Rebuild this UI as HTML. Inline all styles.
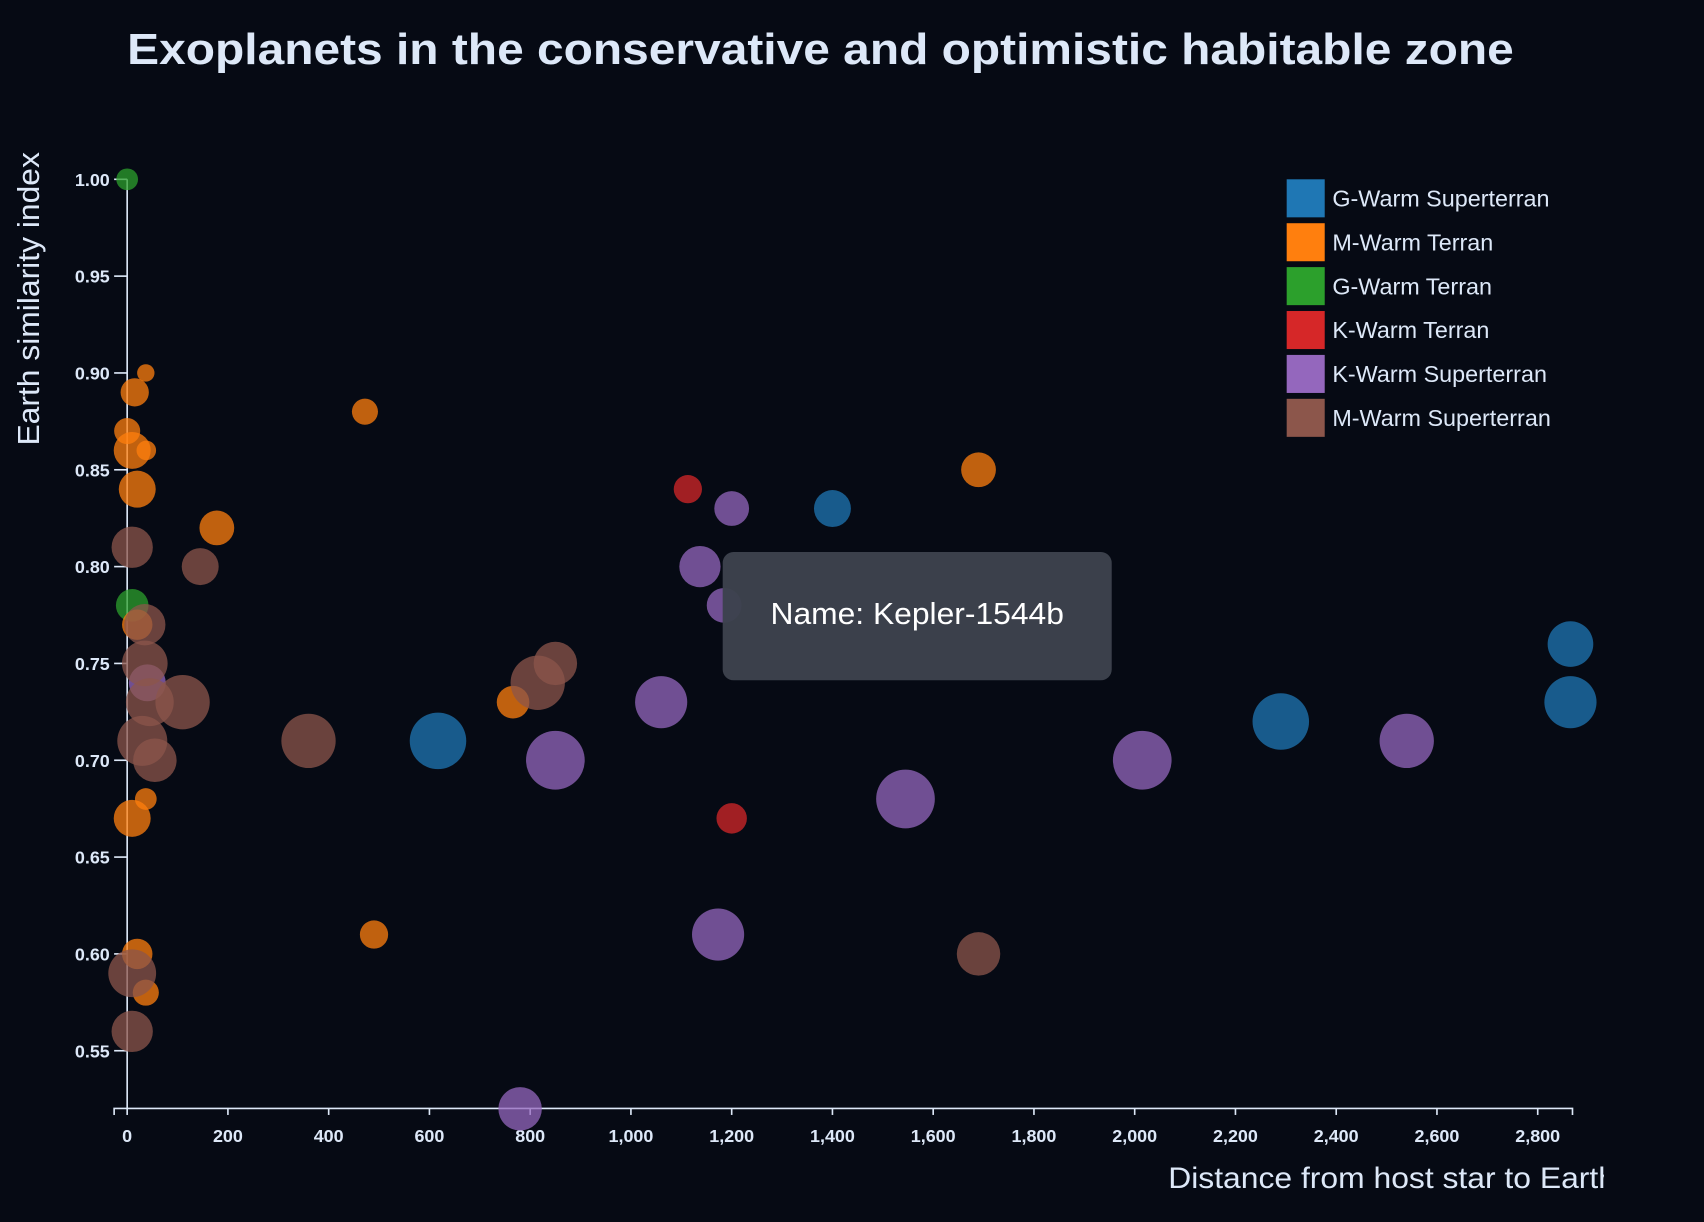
<!DOCTYPE html>
<html><head><meta charset="utf-8"><style>
html,body{margin:0;padding:0;background:#060a14;}
svg{display:block;font-family:"Liberation Sans",sans-serif;}
</style></head><body>
<svg id="chart" width="1704" height="1222" viewBox="0 0 1568 1124.5">
<rect x="0" y="0" width="1568" height="1124.5" fill="#060a14"/>
<text x="117" y="59" font-size="40" font-weight="bold" fill="#dde8f8" textLength="1276" lengthAdjust="spacingAndGlyphs">Exoplanets in the conservative and optimistic habitable zone</text>
<g id="axes"></g>
<g id="marks"></g>
<g id="legend"></g>
<defs><clipPath id="xclip"><rect x="0" y="1040" width="1476" height="80"/></clipPath></defs>
<text x="1075" y="1093" font-size="27" fill="#dde8f8" clip-path="url(#xclip)" textLength="412" lengthAdjust="spacingAndGlyphs">Distance from host star to Earth</text>
<text transform="translate(36,410) rotate(-90)" font-size="28" fill="#dde8f8" textLength="270" lengthAdjust="spacingAndGlyphs">Earth similarity index</text>
<g>
<rect x="665" y="508" width="358" height="118" rx="10" fill="#3d424d" opacity="0.97"/>
<text x="844" y="574" font-size="28" fill="#ffffff" text-anchor="middle" textLength="270" lengthAdjust="spacingAndGlyphs">Name: Kepler-1544b</text>
</g>
</svg>
<script>
const categories = ["G-Warm Superterran","M-Warm Terran","G-Warm Terran","K-Warm Terran","K-Warm Superterran","M-Warm Superterran"];
const colors = ["#1f77b4","#ff7f0e","#2ca02c","#d62728","#9467bd","#8c564b"];
const xTicks = [0,200,400,600,800,1000,1200,1400,1600,1800,2000,2200,2400,2600,2800];
const yTicks = [0.55,0.60,0.65,0.70,0.75,0.80,0.85,0.90,0.95,1.00];
const pointCategory = [2,2, 1,1,1,1,1,1,1,1,1,1,1,1,1,1,1,1, 3,3, 0,0,0,0,0, 4,4,4,4,4,4,4,4,4,4,4, 5,5,5,5,5,5,5,5,5,5,5,5,5,5];
const pointDistance = [0,10, 37,15,0,10,38,20,472,178,20,766,37,10,490,20,37,1690, 1113,1200, 1400,617,2290,2865,2865, 1200,1137,1185,1060,850,1545,2015,2540,1173,780,40, 10,145,35,35,110,45,30,55,360,815,850,1690,10,10];
const pointEsi = [1.00,0.78, 0.90,0.89,0.87,0.86,0.86,0.84,0.88,0.82,0.77,0.73,0.68,0.67,0.61,0.60,0.58,0.85, 0.84,0.67, 0.83,0.71,0.72,0.76,0.73, 0.83,0.80,0.78,0.73,0.70,0.68,0.70,0.71,0.61,0.52,0.74, 0.81,0.80,0.77,0.75,0.73,0.73,0.71,0.70,0.71,0.74,0.75,0.60,0.59,0.56];
const pointSize = [10,15, 8,13,12,17,9,17,12,16,14,15,10,17,13,14,12,16, 13,14, 17,26,26,21,24, 16,19,16,24,27,27,27,25,24,20,17, 19,17,19,21,25,22,23,20,25,25,20,20,22,19];

const NS="http://www.w3.org/2000/svg";
const X0=117, XK=1298/2800, Y0=165, YK=1782;
function xs(v){return X0+v*XK;}
function ys(v){return Y0+(1-v)*YK;}
function mk(tag,attrs,parent){const e=document.createElementNS(NS,tag);for(const k in attrs)e.setAttribute(k,attrs[k]);parent.appendChild(e);return e;}
const axes=document.getElementById('axes'), marks=document.getElementById('marks'), legend=document.getElementById('legend');
const stroke="#dde8f8";
let p=mk('path',{d:`M105,1026V1020H1447V1026`,fill:'none',stroke:stroke,'stroke-width':1.5},axes);


p=mk('line',{x1:X0,x2:X0,y1:Y0,y2:1020,stroke:stroke,'stroke-width':1.5},axes);


xTicks.forEach(t=>{
  const l=mk('line',{x1:xs(t),x2:xs(t),y1:1020,y2:1026,stroke:stroke,'stroke-width':1.5},axes);
  
  
  const tx=mk('text',{x:xs(t),y:1051,'font-size':16.5,'font-weight':'bold','text-anchor':'middle',fill:stroke},axes);
  tx.textContent=t.toLocaleString('en-US');
  
  
});
yTicks.forEach(t=>{
  const l=mk('line',{x1:X0-12,x2:X0,y1:ys(t),y2:ys(t),stroke:stroke,'stroke-width':1.5},axes);
  
  
  const tx=mk('text',{x:X0-16,y:ys(t)+6,'font-size':16.5,'font-weight':'bold','text-anchor':'end',fill:stroke},axes);
  tx.textContent=t.toFixed(2);
  
  
});
pointDistance.forEach((d,i)=>{
  const c=mk('circle',{cx:xs(d),cy:ys(pointEsi[i]),r:pointSize[i],fill:colors[pointCategory[i]],'fill-opacity':0.75},marks);
  
  
});
categories.forEach((c,i)=>{
  const y=165+i*40.4;
  const r=mk('rect',{x:1184,y:y,width:35,height:35,fill:colors[i]},legend);
  
  
  const t=mk('text',{x:1226,y:y+25,'font-size':21.5,fill:stroke},legend);
  t.textContent=c;
  
  
});
</script>
</body></html>
